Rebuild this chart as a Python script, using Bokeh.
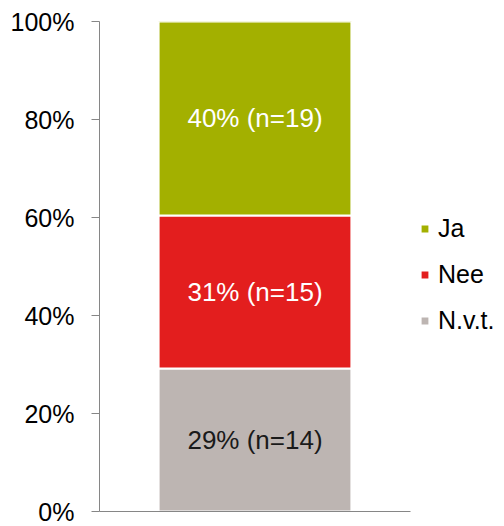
from bokeh.plotting import figure
from bokeh.models import ColumnDataSource, FactorRange, Range1d, Legend, LegendItem, FixedTicker
from bokeh.embed import file_html
from bokeh.resources import INLINE
from bokeh.core.properties import value

# Data
categories = ["N.v.t.", "Nee", "Ja"]          # bottom to top
percents = [29.17, 31.25, 39.58]
counts = [14, 15, 19]
labels = ["29% (n=14)", "31% (n=15)", "40% (n=19)"]
colors = ["#bdb5b2", "#e31e1e", "#a3b000"]
label_colors = ["#1a1a1a", "#ffffff", "#ffffff"]
y_ticks = [0, 20, 40, 60, 80, 100]
group = "Totaal"

FONT = "Liberation Sans"

p = figure(x_range=FactorRange(factors=[group]), y_range=Range1d(0, 100),
           output_backend="svg", toolbar_location=None,
           frame_width=311, frame_height=490,
           min_border_left=99, min_border_right=94, min_border_top=21, min_border_bottom=15,
           outline_line_color=None, background_fill_color="white", border_fill_color="white")

bottoms = []
acc = 0.0
for v in percents:
    bottoms.append(acc)
    acc += v
tops = [b + v for b, v in zip(bottoms, percents)]
mids = [(b + t) / 2 for b, t in zip(bottoms, tops)]

renderers = []
for i, cat in enumerate(categories):
    src = ColumnDataSource(dict(x=[group], bottom=[bottoms[i]], top=[tops[i]]))
    r = p.vbar(x="x", bottom="bottom", top="top", width=0.62, source=src,
               fill_color=colors[i], line_color="white", line_width=2)
    renderers.append(r)

tsrc = ColumnDataSource(dict(x=[group] * 3, y=mids, text=labels, color=label_colors))
p.text(x="x", y="y", text="text", text_color="color", source=tsrc,
       text_align="center", text_baseline="middle",
       text_font=value(FONT), text_font_size="26px")

p.xgrid.grid_line_color = None
p.ygrid.grid_line_color = None

ya = p.yaxis[0]
ya.ticker = FixedTicker(ticks=y_ticks)
ya.major_label_overrides = {t: f"{t}%" for t in y_ticks}
ya.major_label_text_font = FONT
ya.major_label_text_font_size = "25px"
ya.major_label_text_color = "#000000"
ya.major_label_standoff = 17
ya.major_tick_out = 8
ya.major_tick_in = 0
ya.minor_tick_line_color = None
ya.axis_line_color = "#868686"
ya.major_tick_line_color = "#868686"

xa = p.xaxis[0]
xa.major_label_text_font_size = "0px"
xa.major_label_text_color = None
xa.major_tick_line_color = None
xa.minor_tick_line_color = None
xa.axis_line_color = "#868686"

items = [LegendItem(label=categories[i], renderers=[renderers[i]]) for i in [2, 1, 0]]
legend = Legend(items=items, location=(9, 176), orientation="vertical",
                padding=0, margin=0, spacing=17, glyph_width=11, glyph_height=11,
                label_height=25, label_standoff=8, label_text_font=FONT,
                label_text_font_size="25px", label_text_baseline="middle",
                label_text_color="#000000", border_line_color=None,
                background_fill_alpha=0)
p.add_layout(legend, "right")

open("out.html", "w").write(file_html(p, INLINE))
